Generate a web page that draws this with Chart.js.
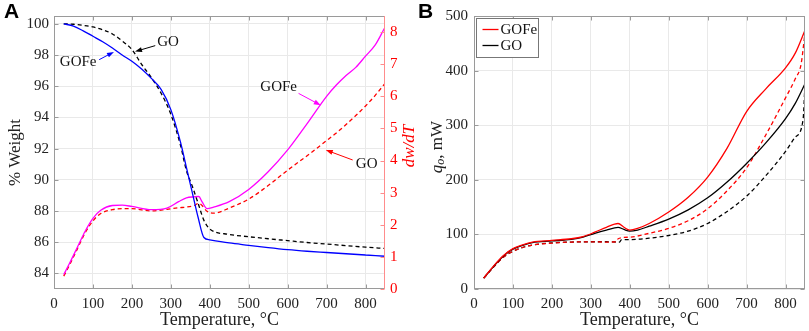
<!DOCTYPE html>
<html>
<head>
<meta charset="utf-8">
<script src="https://cdn.jsdelivr.net/npm/chart.js@4.4.0/dist/chart.umd.min.js"></script>
<style>
body { margin: 0; background: #fff; width: 809px; height: 331px; position: relative; overflow: hidden; }
.panel { position: absolute; top: 0; height: 331px; }
#wrapA { left: 0; width: 420px; }
#wrapB { left: 420px; width: 389px; }
.tag { position: absolute; top: -1px; font: bold 21px "Liberation Sans", Arial, sans-serif; color: #000; }
</style>
</head>
<body>
<div class="panel" id="wrapA"><canvas id="chartA" width="420" height="331"></canvas></div>
<div class="panel" id="wrapB"><canvas id="chartB" width="389" height="331"></canvas></div>
<div class="tag" style="left:4px">A</div>
<div class="tag" style="left:418px">B</div>
<script>
"use strict";

var $ = function(id) {
    return document.getElementById(id);
};

// ---- panel A : weight loss (left axis) and dw/dT (right axis)
var tWeight    = [25, 50, 75, 100, 125, 150, 175, 200, 225, 250, 275, 300, 325, 340, 355, 370, 385, 400, 450, 500, 550, 600, 650, 700, 750, 800, 850];
var weightGOFe = [100.0, 99.85, 99.55, 99.2, 98.85, 98.45, 98.0, 97.6, 97.1, 96.5, 95.8, 94.5, 92.4, 90.8, 89.2, 87.6, 86.3, 86.15, 85.95, 85.8, 85.65, 85.52, 85.42, 85.34, 85.26, 85.18, 85.1];
var weightGO   = [100.0, 99.97, 99.9, 99.8, 99.62, 99.35, 98.9, 98.35, 97.4, 96.55, 95.55, 94.2, 92.2, 90.6, 89.6, 88.5, 87.4, 86.85, 86.5, 86.35, 86.22, 86.1, 85.98, 85.88, 85.78, 85.68, 85.6];

var tRate    = [25, 40, 60, 80, 100, 120, 150, 175, 200, 250, 290, 320, 340, 360, 372, 380, 393, 410, 450, 500, 550, 600, 650, 700, 725, 750, 775, 800, 825, 850];
var rateGOFe = [0.45, 0.8, 1.3, 1.8, 2.2, 2.45, 2.6, 2.61, 2.57, 2.47, 2.52, 2.72, 2.84, 2.87, 2.88, 2.72, 2.5, 2.55, 2.72, 3.1, 3.65, 4.33, 5.15, 6.0, 6.35, 6.65, 6.9, 7.25, 7.6, 8.15];
var rateGO   = [0.4, 0.75, 1.25, 1.75, 2.12, 2.35, 2.47, 2.5, 2.5, 2.43, 2.48, 2.53, 2.55, 2.6, 2.67, 2.6, 2.42, 2.36, 2.52, 2.8, 3.22, 3.7, 4.15, 4.62, 4.86, 5.12, 5.4, 5.7, 6.03, 6.4];

// ---- panel B : heat flow
var tHeat = [25, 50, 75, 100, 125, 150, 200, 250, 280, 310, 340, 370, 385, 400, 420, 450, 500, 550, 600, 650, 700, 750, 800, 825, 850];
var qGOFe = [20, 42, 61, 74, 81, 86, 89, 92, 96, 104, 113, 120, 113, 108, 111, 120, 141, 168, 205, 258, 325, 367, 405, 432, 474];
var qGO   = [20, 41, 60, 73, 80, 85, 88, 91, 95, 102, 108, 113, 109, 106, 108, 115, 128, 145, 167, 196, 230, 268, 312, 340, 376];

var tHeatDashGOFe = [25, 50, 75, 100, 125, 150, 200, 250, 300, 340, 366, 370, 400, 450, 500, 550, 600, 650, 700, 750, 800, 825, 840, 850];
var qGOFeDash     = [20, 40, 58, 69, 76, 80.5, 84, 86, 86.3, 86, 86.3, 92, 95, 102, 111, 125, 147, 180, 222, 283, 350, 385, 412, 470];
var tHeatDashGO   = [25, 50, 75, 100, 125, 150, 200, 250, 300, 340, 374, 378, 400, 450, 500, 550, 600, 650, 700, 750, 800, 825, 845, 850];
var qGODash       = [20, 40, 58, 69, 76, 80.5, 84.5, 86, 86.5, 86.5, 86, 90, 90.5, 93, 98, 106, 120, 142, 170, 208, 252, 278, 310, 375];

// ---- tick labels
var tempTicks   = [0, 100, 200, 300, 400, 500, 600, 700, 800];
var weightTicks = [84, 86, 88, 90, 92, 94, 96, 98, 100];
var rateTicks   = [0, 1, 2, 3, 4, 5, 6, 7, 8];
var heatTicks   = [0, 100, 200, 300, 400, 500];

var SERIF = '"Liberation Serif", "DejaVu Serif", serif';
var GRID = '#e9e9e9';
var AXIS = '#9a9a9a';
var tickFont = { family: SERIF, size: 15 };

function pts(xs, ys) {
    var out = [];
    for (var i = 0; i < xs.length; i++) {
        out.push({ x: xs[i], y: ys[i] });
    }
    return out;
}

function line(label, xs, ys, color, dashed, axis) {
    return {
        label: label,
        data: pts(xs, ys),
        borderColor: color,
        borderWidth: 1.3,
        borderDash: dashed ? [4, 3] : [],
        pointRadius: 0,
        fill: false,
        showLine: true,
        cubicInterpolationMode: 'monotone',
        yAxisID: axis || 'y'
    };
}

function fixedTicks(list) {
    return function(scale) {
        scale.ticks = list.map(function(v) { return { value: v }; });
    };
}

function tempAxis() {
    return {
        type: 'linear', min: 0, max: 850,
        afterBuildTicks: fixedTicks(tempTicks),
        grid: { color: GRID, drawTicks: false },
        border: { display: false },
        ticks: { color: '#222', font: tickFont, padding: 6, maxRotation: 0 },
        title: { display: true, text: 'Temperature, °C', color: '#222',
                 font: { family: SERIF, size: 18 }, padding: { top: 0, bottom: 0 } },
        afterFit: function(s) { s.height = 42; }
    };
}

// box round the plot area plus small inward tick marks, MATLAB style
var framePlugin = {
    id: 'frame',
    afterDraw: function(chart, args, o) {
        var a = chart.chartArea, ctx = chart.ctx;
        function seg(x1, y1, x2, y2) {
            ctx.beginPath(); ctx.moveTo(x1, y1); ctx.lineTo(x2, y2); ctx.stroke();
        }
        ctx.save();
        ctx.lineWidth = 1;
        ctx.strokeStyle = AXIS;
        var L = Math.round(a.left) + 0.5, R = Math.round(a.right) - 0.5;
        var T = Math.round(a.top) + 0.5, B = Math.round(a.bottom) - 0.5;
        ctx.strokeRect(L, T, R - L, B - T);
        var xs = chart.scales.x;
        xs.ticks.forEach(function(t) {
            var p = Math.round(xs.getPixelForValue(t.value)) + 0.5;
            seg(p, B, p, B - 4);
            seg(p, T, p, T + 4);
        });
        var ys = chart.scales.y;
        ys.ticks.forEach(function(t) {
            var p = Math.round(ys.getPixelForValue(t.value)) + 0.5;
            seg(L, p, L + 4, p);
            if (!o.rightColor) seg(R, p, R - 4, p);
        });
        if (o.rightColor) {
            ctx.strokeStyle = o.rightColor;
            seg(R, T - 0.5, R, B + 0.5);
            var y2 = chart.scales.y2;
            y2.ticks.forEach(function(t) {
                var p = Math.round(y2.getPixelForValue(t.value)) + 0.5;
                seg(R, p, R - 4, p);
            });
        }
        ctx.restore();
    }
};

// rotated axis titles that Chart.js cannot draw (right side, subscript)
var sideTitlePlugin = {
    id: 'sideTitle',
    afterDraw: function(chart, args, o) {
        if (!o.parts) return;
        var ctx = chart.ctx;
        ctx.save();
        var total = 0;
        o.parts.forEach(function(p) {
            ctx.font = p.font;
            p.w = ctx.measureText(p.text).width;
            total += p.w;
        });
        ctx.translate(o.x, o.y);
        ctx.rotate(-Math.PI / 2);
        ctx.textBaseline = 'middle';
        ctx.textAlign = 'left';
        var x = -total / 2;
        o.parts.forEach(function(p) {
            ctx.font = p.font;
            ctx.fillStyle = p.color;
            ctx.fillText(p.text, x, 5 + (p.dy || 0));
            x += p.w;
        });
        ctx.restore();
    }
};

function arrow(ctx, x1, y1, x2, y2, color) {
    var ang = Math.atan2(y2 - y1, x2 - x1);
    var c = Math.cos(ang), s = Math.sin(ang);
    ctx.strokeStyle = color;
    ctx.fillStyle = color;
    ctx.lineWidth = 1;
    ctx.beginPath();
    ctx.moveTo(x1, y1);
    ctx.lineTo(x2 - 5 * c, y2 - 5 * s);
    ctx.stroke();
    ctx.beginPath();
    ctx.moveTo(x2, y2);
    ctx.lineTo(x2 - 7 * c + 2.5 * s, y2 - 7 * s - 2.5 * c);
    ctx.lineTo(x2 - 7 * c - 2.5 * s, y2 - 7 * s + 2.5 * c);
    ctx.closePath();
    ctx.fill();
}

// text labels with arrows, positions in data units of x / y
var notesPlugin = {
    id: 'notes',
    afterDatasetsDraw: function(chart, args, o) {
        if (!o.items) return;
        var ctx = chart.ctx, xs = chart.scales.x, ys = chart.scales.y;
        ctx.save();
        o.items.forEach(function(n) {
            arrow(ctx, xs.getPixelForValue(n.from[0]), ys.getPixelForValue(n.from[1]),
                  xs.getPixelForValue(n.to[0]), ys.getPixelForValue(n.to[1]), n.color);
            ctx.font = '15px ' + SERIF;
            ctx.fillStyle = '#111';
            ctx.textAlign = 'center';
            ctx.textBaseline = 'middle';
            ctx.fillText(n.text, xs.getPixelForValue(n.at[0]), ys.getPixelForValue(n.at[1]));
        });
        ctx.restore();
    }
};

// boxed legend inside the upper left corner
var boxLegendPlugin = {
    id: 'boxLegend',
    afterDraw: function(chart, args, o) {
        if (!o.items) return;
        var a = chart.chartArea, ctx = chart.ctx;
        var x0 = Math.round(a.left) + 2.5, y0 = Math.round(a.top) + 2.5;
        ctx.save();
        ctx.fillStyle = '#fff';
        ctx.fillRect(x0, y0, 62, 39);
        ctx.strokeStyle = '#777';
        ctx.lineWidth = 1;
        ctx.strokeRect(x0, y0, 62, 39);
        ctx.font = '15px ' + SERIF;
        ctx.textBaseline = 'middle';
        o.items.forEach(function(it, i) {
            var y = y0 + 11 + i * 16;
            ctx.strokeStyle = it.color;
            ctx.lineWidth = 1.3;
            ctx.beginPath(); ctx.moveTo(x0 + 6, y); ctx.lineTo(x0 + 22, y); ctx.stroke();
            ctx.fillStyle = '#111';
            ctx.fillText(it.text, x0 + 24, y + 1);
        });
        ctx.restore();
    }
};

Chart.register(framePlugin, sideTitlePlugin, notesPlugin, boxLegendPlugin);

window.onload = function() {
    new Chart($("chartA").getContext('2d'), {
        type: 'scatter',
        data: {
            datasets: [
                line('GOFe', tWeight, weightGOFe, '#0000ff', false, 'y'),
                line('GO', tWeight, weightGO, '#000000', true, 'y'),
                line('GOFe dw/dT', tRate, rateGOFe, '#ff00ff', false, 'y2'),
                line('GO dw/dT', tRate, rateGO, '#ff0000', true, 'y2')
            ]
        },
        options: {
            responsive: false,
            animation: false,
            devicePixelRatio: 1,
            layout: { padding: { top: 16, left: 0, right: 0, bottom: 0 } },
            scales: {
                x: tempAxis(),
                y: {
                    type: 'linear', position: 'left', min: 83, max: 100.5,
                    afterBuildTicks: fixedTicks(weightTicks),
                    grid: { color: GRID, drawTicks: false },
                    border: { display: false },
                    ticks: { color: '#222', font: tickFont, padding: 5 },
                    title: { display: true, text: '% Weight', color: '#222',
                             font: { family: SERIF, size: 17 }, padding: { top: 5, bottom: 0 } },
                    afterFit: function(s) { s.width = 54; }
                },
                y2: {
                    type: 'linear', position: 'right', min: 0, max: 8.5,
                    afterBuildTicks: fixedTicks(rateTicks),
                    grid: { display: false, drawTicks: false },
                    border: { display: false },
                    ticks: { color: '#ff0000', font: tickFont, padding: 5 },
                    afterFit: function(s) { s.width = 35; }
                }
            },
            plugins: {
                legend: { display: false },
                tooltip: { enabled: false },
                frame: { rightColor: '#ff8c8c' },
                sideTitle: {
                    x: 405, y: 146,
                    parts: [{ text: 'dw/dT', font: 'italic 17px ' + SERIF, color: '#ff0000' }]
                },
                notes: {
                    items: [
                        { text: 'GO', at: [293, 98.8], from: [260, 98.6], to: [208, 98.22], color: '#000000' },
                        { text: 'GOFe', at: [62, 97.52], from: [116, 97.7], to: [154, 98.2], color: '#0000ff' },
                        { text: 'GOFe', at: [577, 95.92], from: [628, 95.54], to: [685, 94.78], color: '#ff00ff' },
                        { text: 'GO', at: [803, 91.02], from: [767, 91.27], to: [698, 91.91], color: '#ff0000' }
                    ]
                }
            }
        }
    });

    new Chart($("chartB").getContext('2d'), {
        type: 'scatter',
        data: {
            datasets: [
                line('GOFe', tHeat, qGOFe, '#ff0000', false),
                line('GO', tHeat, qGO, '#000000', false),
                line('GOFe dashed', tHeatDashGOFe, qGOFeDash, '#ff0000', true),
                line('GO dashed', tHeatDashGO, qGODash, '#000000', true)
            ]
        },
        options: {
            responsive: false,
            animation: false,
            devicePixelRatio: 1,
            layout: { padding: { top: 16, left: 0, right: 4, bottom: 0 } },
            scales: {
                x: tempAxis(),
                y: {
                    type: 'linear', position: 'left', min: 0, max: 500,
                    afterBuildTicks: fixedTicks(heatTicks),
                    grid: { color: GRID, drawTicks: false },
                    border: { display: false },
                    ticks: { color: '#222', font: tickFont, padding: 6 },
                    afterFit: function(s) { s.width = 54; }
                }
            },
            plugins: {
                legend: { display: false },
                tooltip: { enabled: false },
                frame: {},
                sideTitle: {
                    x: 13, y: 147,
                    parts: [
                        { text: 'q', font: 'italic 17px ' + SERIF, color: '#222' },
                        { text: 'o', font: 'italic 12px ' + SERIF, color: '#222', dy: 3 },
                        { text: ', mW', font: '17px ' + SERIF, color: '#222' }
                    ]
                },
                boxLegend: {
                    items: [
                        { text: 'GOFe', color: '#ff0000' },
                        { text: 'GO', color: '#000000' }
                    ]
                }
            }
        }
    });
};
</script>
</body>
</html>
